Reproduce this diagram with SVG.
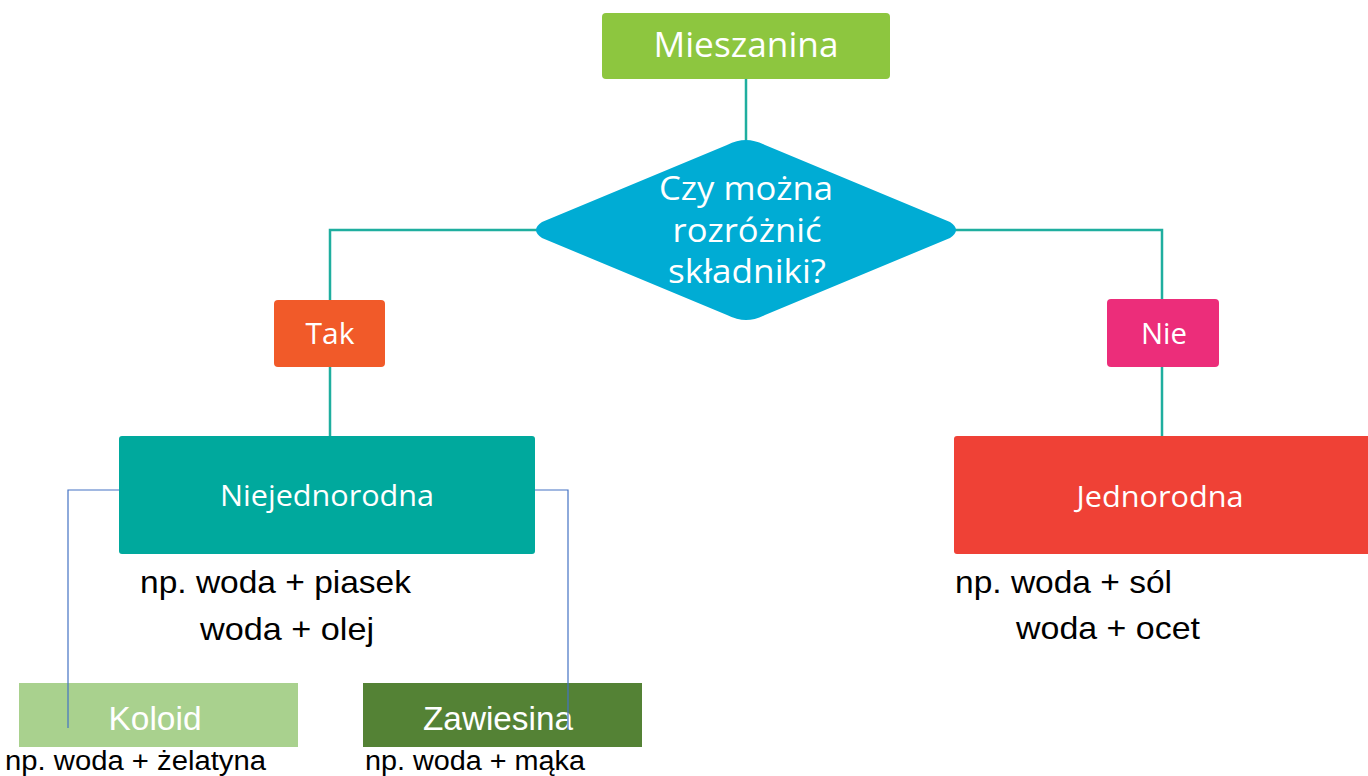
<svg xmlns="http://www.w3.org/2000/svg" width="1368" height="776" viewBox="0 0 1368 776">
<style>
.os{font-family:"Open Sans","DejaVu Sans",sans-serif;fill:#ffffff;text-anchor:middle}
.cb{font-family:"Liberation Sans",Arial,sans-serif;fill:#000000}
.cw{font-family:"Liberation Sans",Arial,sans-serif;fill:#ffffff;text-anchor:middle}
.tl{stroke:#1fae9f;stroke-width:2.5;fill:none}
.bl{stroke:#4472c4;stroke-width:1.2;fill:none}
</style>
<rect width="1368" height="776" fill="#ffffff"/>
<g id="connectors">
<path class="tl" d="M746 79 V142"/>
<path class="tl" d="M537 230 H330 V300"/>
<path class="tl" d="M955 230 H1162 V300"/>
<path class="tl" d="M330 367 V436"/>
<path class="tl" d="M1162 367 V436"/>
</g>
<g id="mieszanina">
<rect x="602" y="13" width="288" height="66" rx="4" fill="#8dc63f"/>
<text class="os" x="746" y="57" font-size="34" textLength="185" lengthAdjust="spacingAndGlyphs">Mieszanina</text>
</g>
<g id="pytanie">
<path d="M746 140 Q755 140 765 145 L950 222 Q962 230 950 238 L765 315 Q755 320 746 320 Q737 320 727 315 L542 238 Q530 230 542 222 L727 145 Q737 140 746 140 Z" fill="#00acd4"/>
<text class="os" x="746" y="200" font-size="33" textLength="174" lengthAdjust="spacingAndGlyphs">Czy można</text>
<text class="os" x="747" y="242" font-size="33" textLength="149" lengthAdjust="spacingAndGlyphs">rozróżnić</text>
<text class="os" x="747" y="283" font-size="33" textLength="158" lengthAdjust="spacingAndGlyphs">składniki?</text>
</g>
<g id="tak">
<rect x="274" y="300" width="111" height="67" rx="4" fill="#f15a29"/>
<text class="os" x="330" y="344" font-size="29" textLength="49" lengthAdjust="spacingAndGlyphs">Tak</text>
</g>
<g id="nie">
<rect x="1107" y="299" width="112" height="68" rx="4" fill="#ec2d7a"/>
<text class="os" x="1164" y="344" font-size="29" textLength="46" lengthAdjust="spacingAndGlyphs">Nie</text>
</g>
<g id="niejednorodna">
<rect x="119" y="436" width="416" height="118" rx="3" fill="#00a99d"/>
<text class="os" x="327" y="506" font-size="29" textLength="214" lengthAdjust="spacingAndGlyphs">Niejednorodna</text>
<text class="cb" x="140" y="593" font-size="32" textLength="271" lengthAdjust="spacingAndGlyphs">np. woda + piasek</text>
<text class="cb" x="200" y="640" font-size="32" textLength="174" lengthAdjust="spacingAndGlyphs">woda + olej</text>
</g>
<g id="jednorodna">
<rect x="954" y="436" width="420" height="118" rx="3" fill="#ef4136"/>
<text class="os" x="1160" y="507" font-size="29" textLength="167" lengthAdjust="spacingAndGlyphs">Jednorodna</text>
<text class="cb" x="955" y="593" font-size="32" textLength="217" lengthAdjust="spacingAndGlyphs">np. woda + sól</text>
<text class="cb" x="1016" y="639" font-size="32" textLength="184" lengthAdjust="spacingAndGlyphs">woda + ocet</text>
</g>
<g id="koloid">
<rect x="19" y="683" width="279" height="64" fill="#a9d18e"/>
<text class="cw" x="155" y="730" font-size="33" textLength="93" lengthAdjust="spacingAndGlyphs">Koloid</text>
<text class="cb" x="5" y="770" font-size="27" textLength="261" lengthAdjust="spacingAndGlyphs">np. woda + żelatyna</text>
</g>
<g id="zawiesina">
<rect x="363" y="683" width="279" height="64" fill="#548235"/>
<text class="cw" x="498" y="730" font-size="33" textLength="150" lengthAdjust="spacingAndGlyphs">Zawiesina</text>
<text class="cb" x="365" y="770" font-size="27" textLength="220" lengthAdjust="spacingAndGlyphs">np. woda + mąka</text>
</g>
<g id="sub-connectors">
<path class="bl" d="M119 490 H68 V728"/>
<path class="bl" d="M535 490 H568 V730"/>
</g>
</svg>
